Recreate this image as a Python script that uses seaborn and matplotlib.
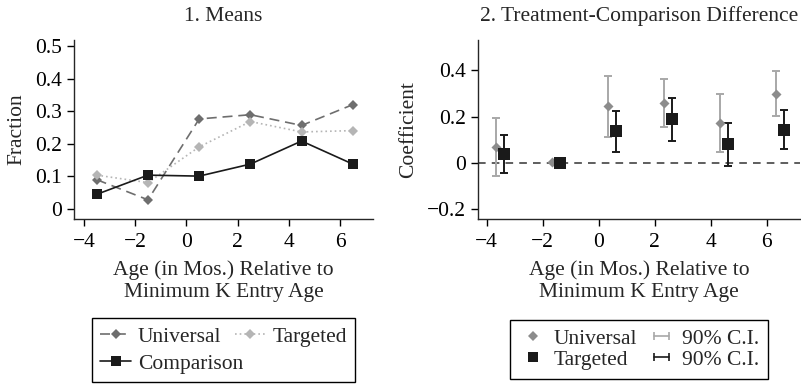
"""
Kindergarten entry age — means and treatment-comparison differences
"""

import matplotlib
matplotlib.use("Agg")
import matplotlib.pyplot as plt
import numpy as np
import pandas as pd
import seaborn as sns
from matplotlib.legend_handler import HandlerLine2D
from matplotlib.lines import Line2D
from matplotlib.ticker import FuncFormatter

# ----------------------------
# Data
# ----------------------------
ages = [-3.5, -1.5, 0.5, 2.5, 4.5, 6.5]

univ_mean = [0.090, 0.028, 0.277, 0.290, 0.257, 0.321]
targ_mean = [0.104, 0.081, 0.191, 0.269, 0.237, 0.241]
comp_mean = [0.045, 0.104, 0.101, 0.138, 0.209, 0.138]

univ_coef = [0.069, 0.003, 0.245, 0.260, 0.174, 0.299]
univ_lo = [-0.056, np.nan, 0.112, 0.155, 0.047, 0.203]
univ_hi = [0.194, np.nan, 0.376, 0.365, 0.298, 0.397]

targ_coef = [0.039, 0.000, 0.138, 0.188, 0.082, 0.142]
targ_lo = [-0.046, np.nan, 0.046, 0.094, -0.012, 0.059]
targ_hi = [0.121, np.nan, 0.224, 0.281, 0.173, 0.230]

XLABEL = "Age (in Mos.) Relative to\nMinimum K Entry Age"

# ----------------------------
# Style
# ----------------------------
sns.set_theme(style="ticks")
plt.rcParams["font.family"] = ["Liberation Serif", "DejaVu Serif"]
FS = 15.5
plt.rcParams["font.size"] = FS
plt.rcParams["axes.linewidth"] = 1.0
plt.rcParams["xtick.major.size"] = 5
plt.rcParams["ytick.major.size"] = 5
plt.rcParams["xtick.major.pad"] = 5
plt.rcParams["ytick.major.pad"] = 4
plt.rcParams["xtick.labelsize"] = FS
plt.rcParams["ytick.labelsize"] = FS
plt.rcParams["axes.labelsize"] = FS
plt.rcParams["axes.titlesize"] = FS
plt.rcParams["legend.fontsize"] = FS
plt.rcParams["axes.unicode_minus"] = True

W, H = 801, 388
fig = plt.figure(figsize=(W / 100, H / 100), dpi=100)
ax1 = fig.add_axes([74 / W, (H - 219) / H, (373 - 74) / W, 179 / H])
ax2 = fig.add_axes([478 / W, (H - 219) / H, (800 - 478) / W, 179 / H])


def fmt(v, _):
    if abs(v) < 1e-9:
        return "0"
    return f"{v:g}".replace("-", "\u2212")


# ----------------------------
# Panel 1: means
# ----------------------------
means = pd.DataFrame({
    "age": ages * 3,
    "value": univ_mean + targ_mean + comp_mean,
    "group": ["Universal"] * 6 + ["Targeted"] * 6 + ["Comparison"] * 6,
})

series_style = {
    "Universal": dict(color="#6e6e6e", dashes=(6, 3.5), marker="D", ms=5),
    "Targeted": dict(color="#b5b5b5", dashes=(1, 1.8), marker="D", ms=5),
    "Comparison": dict(color="#1a1a1a", dashes=(None, None), marker="s", ms=7.5),
}

for name, st in series_style.items():
    sub = means[means["group"] == name]
    sns.lineplot(
        data=sub, x="age", y="value", ax=ax1,
        color=st["color"], marker=st["marker"], markersize=st["ms"],
        markeredgewidth=0, linewidth=1.2, label=name,
    )
    line = ax1.get_lines()[-1]
    if st["dashes"][0] is not None:
        line.set_dashes(st["dashes"])

ax1.set_xlim(-4.39, 7.29)
ax1.set_ylim(-0.031, 0.52)
ax1.set_xticks([-4, -2, 0, 2, 4, 6])
ax1.set_yticks([0, 0.1, 0.2, 0.3, 0.4, 0.5])
ax1.xaxis.set_major_formatter(FuncFormatter(fmt))
ax1.yaxis.set_major_formatter(FuncFormatter(fmt))
ax1.set_title("1. Means", pad=14)
ax1.set_xlabel(XLABEL, linespacing=1.25, labelpad=6)
ax1.set_ylabel("Fraction", labelpad=6)

h, l = ax1.get_legend_handles_labels()
order = [0, 2, 1]
ax1.legend(
    [h[i] for i in order], [l[i] for i in order],
    ncol=2, loc="upper center", bbox_to_anchor=(0.5, -0.553),
    frameon=True, fancybox=False, edgecolor="black", framealpha=1,
    handlelength=1.45, handletextpad=0.3, columnspacing=-0.4,
    borderpad=0.4, labelspacing=0.33, borderaxespad=0,
)

# ----------------------------
# Panel 2: differences
# ----------------------------
x = np.array(ages)
xu = x - 0.17
xt = x + 0.13

ax2.axhline(0, color="#333333", linestyle=(0, (5, 4)), linewidth=1.1, zorder=1)

u_err = np.array([np.array(univ_coef) - np.array(univ_lo),
                  np.array(univ_hi) - np.array(univ_coef)])
t_err = np.array([np.array(targ_coef) - np.array(targ_lo),
                  np.array(targ_hi) - np.array(targ_coef)])

ax2.errorbar(xu, univ_coef, yerr=u_err, fmt="none", ecolor="#a8a8a8",
             elinewidth=1.4, capsize=3.2, capthick=1.4, zorder=2)
ax2.errorbar(xt, targ_coef, yerr=t_err, fmt="none", ecolor="#1a1a1a",
             elinewidth=1.4, capsize=3.2, capthick=1.4, zorder=2)

sns.scatterplot(x=xu, y=univ_coef, ax=ax2, marker="D", s=26,
                color="#8c8c8c", linewidth=0, zorder=3)
sns.scatterplot(x=xt, y=targ_coef, ax=ax2, marker="s", s=64,
                color="#1a1a1a", linewidth=0, zorder=3)

ax2.set_xlim(-4.31, 7.19)
ax2.set_ylim(-0.243, 0.532)
ax2.set_xticks([-4, -2, 0, 2, 4, 6])
ax2.set_yticks([-0.2, 0, 0.2, 0.4])
ax2.xaxis.set_major_formatter(FuncFormatter(fmt))
ax2.yaxis.set_major_formatter(FuncFormatter(fmt))
ax2.set_title("2. Treatment-Comparison Difference", pad=14)
ax2.set_xlabel(XLABEL, linespacing=1.25, labelpad=6)
ax2.set_ylabel("Coefficient", labelpad=6)

h_u = Line2D([], [], linestyle="none", marker="D", markersize=5,
             color="#8c8c8c", markeredgewidth=0)
h_t = Line2D([], [], linestyle="none", marker="s", markersize=7.5,
             color="#1a1a1a", markeredgewidth=0)
ci_u = Line2D([], [], color="#a8a8a8", linewidth=1.2, marker="|",
              markersize=6, markeredgewidth=1.2)
ci_t = Line2D([], [], color="#1a1a1a", linewidth=1.2, marker="|",
              markersize=6, markeredgewidth=1.2)


class LeftMarkerHandler(HandlerLine2D):
    # put a lone marker near the left of the handle box, like the original
    def get_xdata(self, legend, xdescent, ydescent, width, height, fontsize):
        xdata = np.array([-xdescent, -xdescent + width])
        return xdata, np.array([-xdescent + 0.35 * width])


ax2.legend(
    [h_u, h_t, ci_u, ci_t],
    ["Universal", "Targeted", "90% C.I.", "90% C.I."],
    ncol=2, loc="upper center", bbox_to_anchor=(0.5, -0.565),
    frameon=True, fancybox=False, edgecolor="black", framealpha=1,
    handlelength=1.3, handletextpad=0.3, columnspacing=0.5,
    borderpad=0.4, labelspacing=0.05, borderaxespad=0,
    handler_map={ci_u: HandlerLine2D(numpoints=2),
                 ci_t: HandlerLine2D(numpoints=2),
                 h_u: LeftMarkerHandler(),
                 h_t: LeftMarkerHandler()},
)

for ax in (ax1, ax2):
    sns.despine(ax=ax)
    ax.tick_params(direction="out", width=1.0, colors="black")

fig.savefig("out.png", dpi=100)
